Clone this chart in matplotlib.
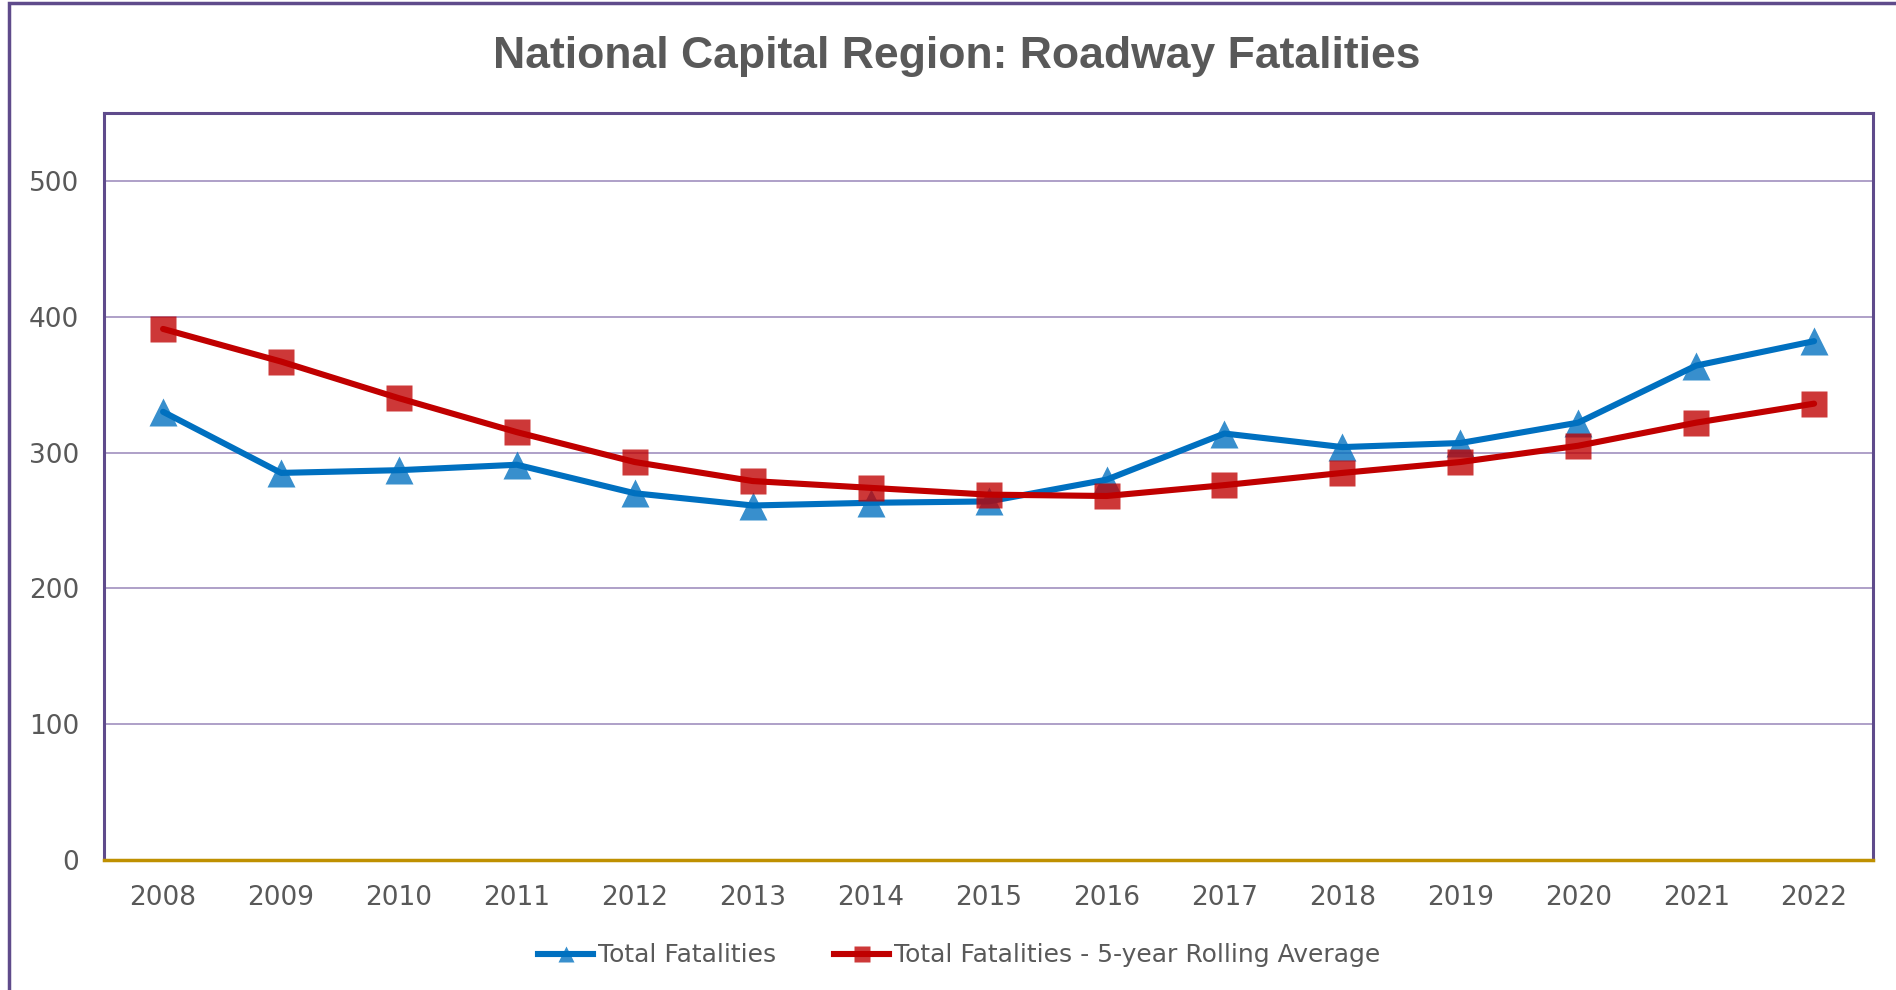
import matplotlib.pyplot as plt
from matplotlib.lines import Line2D
from matplotlib.patches import Rectangle

years = [2008, 2009, 2010, 2011, 2012, 2013, 2014, 2015, 2016, 2017, 2018, 2019, 2020, 2021, 2022]
total_fatalities = [330, 285, 287, 291, 270, 261, 263, 264, 280, 314, 304, 307, 322, 364, 382]
rolling_avg = [391, 367, 340, 315, 293, 279, 274, 269, 268, 276, 285, 293, 305, 322, 336]
y_ticks = [0, 100, 200, 300, 400, 500]

BLUE = '#0070C0'
RED = '#C00000'
PURPLE = '#5F4B8B'
GRID = '#A898C4'
GOLD = '#BF9000'
TEXT = '#595959'

plt.rcParams['font.family'] = ['DejaVu Sans']

fig = plt.figure(figsize=(18.96, 9.9), dpi=100)
ax = fig.add_axes([0.0549, 0.1313, 0.9330, 0.7546])

x = list(range(len(years)))

# lines first, then semi-transparent markers on top
ax.plot(x, total_fatalities, color=BLUE, lw=4.4, solid_capstyle='round', zorder=3)
ax.plot(x, total_fatalities, ls='none', marker='^', ms=20,
        mfc=(0.0, 0.44, 0.75, 0.78), mec='none', zorder=4)
ax.plot(x, rolling_avg, color=RED, lw=4.4, solid_capstyle='round', zorder=5)
ax.plot(x, rolling_avg, ls='none', marker='s', ms=19,
        mfc=(0.75, 0.0, 0.0, 0.78), mec='none', zorder=6)

ax.set_xlim(-0.5, len(years) - 0.5)
ax.set_ylim(0, 550)
ax.set_xticks(x)
ax.set_xticklabels([str(y) for y in years])
ax.set_yticks(y_ticks)
ax.tick_params(axis='both', length=0, labelsize=19, colors=TEXT)
ax.tick_params(axis='y', pad=18)
ax.tick_params(axis='x', pad=18)
ax.yaxis.grid(True, color=GRID, lw=1.3)
ax.set_axisbelow(True)

for side in ['left', 'right', 'top']:
    ax.spines[side].set_color(PURPLE)
    ax.spines[side].set_linewidth(2.2)
ax.spines['bottom'].set_color(GOLD)
ax.spines['bottom'].set_linewidth(2.5)

fig.text(0.5045, 0.9313, 'National Capital Region: Roadway Fatalities',
         ha='center', va='baseline', fontsize=32, fontweight='bold', color=TEXT,
         family='Liberation Sans')

# outer chart border (cropped on right and bottom)
fig.patches.append(Rectangle((9 / 1896, -0.1), 1.2, 1.1 - 3 / 990,
                             transform=fig.transFigure, fill=False,
                             edgecolor=PURPLE, lw=2.5))

handles = [
    Line2D([], [], color=BLUE, lw=4.4, marker='^', ms=11,
           mfc=(0.0, 0.44, 0.75, 0.78), mec='none'),
    Line2D([], [], color=RED, lw=4.4, marker='s', ms=11,
           mfc=(0.75, 0.0, 0.0, 0.78), mec='none'),
]
fig.legend(handles, ['Total Fatalities', 'Total Fatalities - 5-year Rolling Average'],
           loc='center', bbox_to_anchor=(0.506, 0.035), ncol=2, frameon=False,
           fontsize=18, labelcolor=TEXT, handlelength=2.2, handletextpad=0.2,
           columnspacing=2.3)

fig.savefig('out.png', dpi=100)
